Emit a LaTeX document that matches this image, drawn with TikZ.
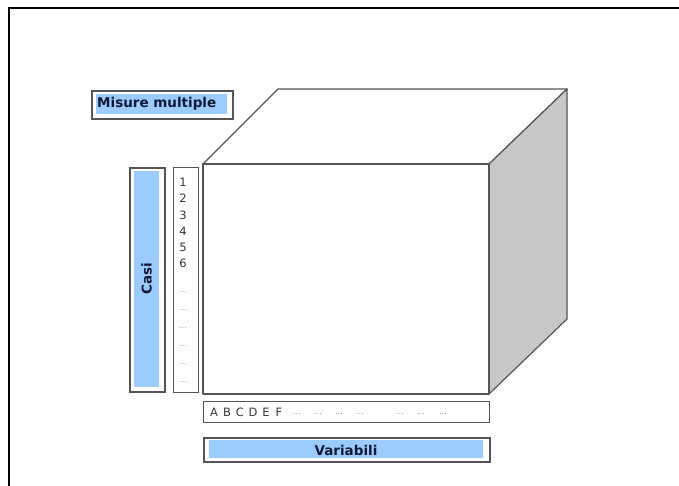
\documentclass[tikz,border=0pt]{standalone}
\usepackage{fontspec}
\setmainfont{DejaVu Sans}
\definecolor{skyfill}{RGB}{155,203,255}
\definecolor{edgegray}{RGB}{85,85,85}
\definecolor{sidegray}{RGB}{200,200,200}
\definecolor{labelink}{RGB}{15,25,55}
\definecolor{tickink}{RGB}{55,55,55}
\tikzset{
  frameline/.style={line width=2.4pt, black},
  outerbox/.style={draw=edgegray, line width=1.5pt, fill=white, inner sep=0pt, anchor=north west},
  bluebar/.style={fill=skyfill, inner sep=0pt, anchor=north west},
  title/.style={font=\fontsize{13.5}{13.5}\selectfont\bfseries, text=labelink},
  tick/.style={font=\fontsize{11.5}{11.5}\selectfont, text=tickink, inner sep=0pt},
  dotsmark/.style={font=\fontsize{8}{8}\selectfont, text=gray!75, inner sep=0pt},
  cubeedge/.style={draw=edgegray, line width=1.2pt, line join=round},
}
\begin{document}
\begin{tikzpicture}[x=1pt, y=-1pt]
\useasboundingbox (0,0) rectangle (679,485);

% page frame, cut at the right and bottom
\draw[frameline] (9,486) -- (9,8) -- (680,8);

% cube
\coordinate (ftl) at (203,164);
\coordinate (ftr) at (489,164);
\coordinate (fbr) at (489,394);
\coordinate (fbl) at (203,394);
\coordinate (btl) at (278,89);
\coordinate (btr) at (567,89);
\coordinate (bbr) at (567,319);
\draw[cubeedge, fill=white] (ftl) -- (btl) -- (btr) -- (ftr) -- cycle;
\draw[cubeedge, fill=sidegray] (ftr) -- (btr) -- (bbr) -- (fbr) -- cycle;
\draw[cubeedge, fill=white] (ftl) rectangle (fbr);

% "Misure multiple" label
\node[outerbox, minimum width=141pt, minimum height=28pt] (mmbox) at (91,90) {};
\node[bluebar, minimum width=131pt, minimum height=20pt] (mmfill) at (96,94) {};
\node[title, anchor=west, inner sep=0pt] (mmtext) at (97,104) {Misure multiple};

% "Casi" label
\node[outerbox, minimum width=35pt, minimum height=224pt] (casibox) at (129,167) {};
\node[bluebar, minimum width=25pt, minimum height=216pt] (casifill) at (134,171) {};
\node[title, rotate=90] (casitext) at (146.5,279) {Casi};

% case numbers
\node[outerbox, line width=1.1pt, minimum width=25pt, minimum height=225pt] (numbox) at (173,167) {};
\foreach \n/\yy in {1/182, 2/198, 3/215, 4/231, 5/247, 6/263}
  \node[tick] (case\n) at (183,\yy) {\n};
\foreach \k/\yy in {1/292, 2/310, 3/328, 4/346, 5/364, 6/382}
  \node[dotsmark] (casedots\k) at (183,\yy) {...};

% variable letters
\node[outerbox, line width=1.1pt, minimum width=286pt, minimum height=21pt] (varbox) at (203,401) {};
\foreach \l/\xx in {A/214, B/227, C/240, D/253, E/266, F/279}
  \node[tick] (var\l) at (\xx,412) {\l};
\foreach \k/\xx in {1/297, 2/318, 3/339, 4/360, 5/400, 6/421, 7/443}
  \node[dotsmark] (vardots\k) at (\xx,414) {...};

% "Variabili" label
\node[outerbox, minimum width=286pt, minimum height=24pt] (vbox) at (203,437) {};
\node[bluebar, minimum width=274pt, minimum height=18pt] (vfill) at (209,440) {};
\node[title] (vtext) at (346,450) {Variabili};
\end{tikzpicture}
\end{document}
